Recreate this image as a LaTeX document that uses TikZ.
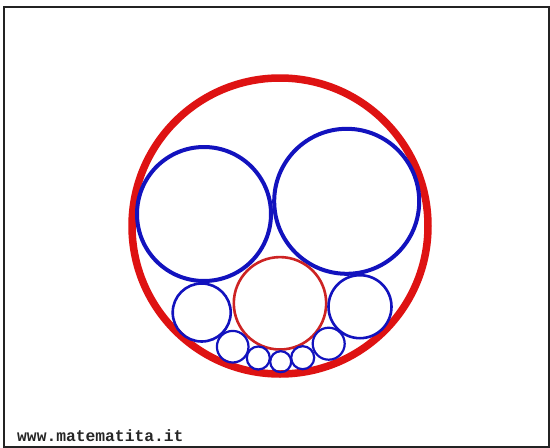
\documentclass[tikz,border=0pt]{standalone}
\usepackage{fontspec}
\newfontfamily\urlfont{Liberation Mono}
\definecolor{ringred}{RGB}{222,18,18}
\definecolor{innerred}{RGB}{205,35,35}
\definecolor{ringblue}{RGB}{18,18,190}
\definecolor{framegray}{RGB}{35,35,35}
\tikzset{
  outerring/.style={draw=ringred, line width=7.5pt},
  innerring/.style={draw=innerred, line width=2.6pt},
  bigblue/.style={draw=ringblue, line width=4pt},
  midblue/.style={draw=ringblue, line width=2.6pt},
  smallblue/.style={draw=ringblue, line width=2.2pt},
  sitelabel/.style={anchor=base west, inner sep=0pt, font=\urlfont\bfseries\fontsize{16.3}{16.3}\selectfont, text=black!85}
}
\begin{document}
\begin{tikzpicture}[x=1pt,y=-1pt]
\useasboundingbox (0,0) rectangle (550,448);
\fill[white] (0,0) rectangle (550,448);
\draw[framegray, line width=2pt] (3.5,7) rectangle (548.5,446.5);
% big outer ring
\draw[outerring] (280,226) circle (148);
% two big blue circles
\draw[bigblue] (204,214) circle (67);
\draw[bigblue] (346.7,201.3) circle (72.5);
% inner red circle
\draw[innerred, line width=2.6pt] (280,303.3) circle (46.2);
% medium blue circles
\draw[midblue] (201.7,312.5) circle (29);
\draw[midblue] (360,306.7) circle (31.5);
% small blue circles
\draw[smallblue] (232.7,346.7) circle (15.8);
\draw[smallblue] (258.3,358) circle (11.5);
\draw[smallblue] (280.7,361.7) circle (10.5);
\draw[smallblue] (302.7,357.7) circle (11.5);
\draw[smallblue] (328.7,343.7) circle (16);
\node[sitelabel] (site) at (17,441.5) {www.matematita.it};
\end{tikzpicture}
\end{document}
